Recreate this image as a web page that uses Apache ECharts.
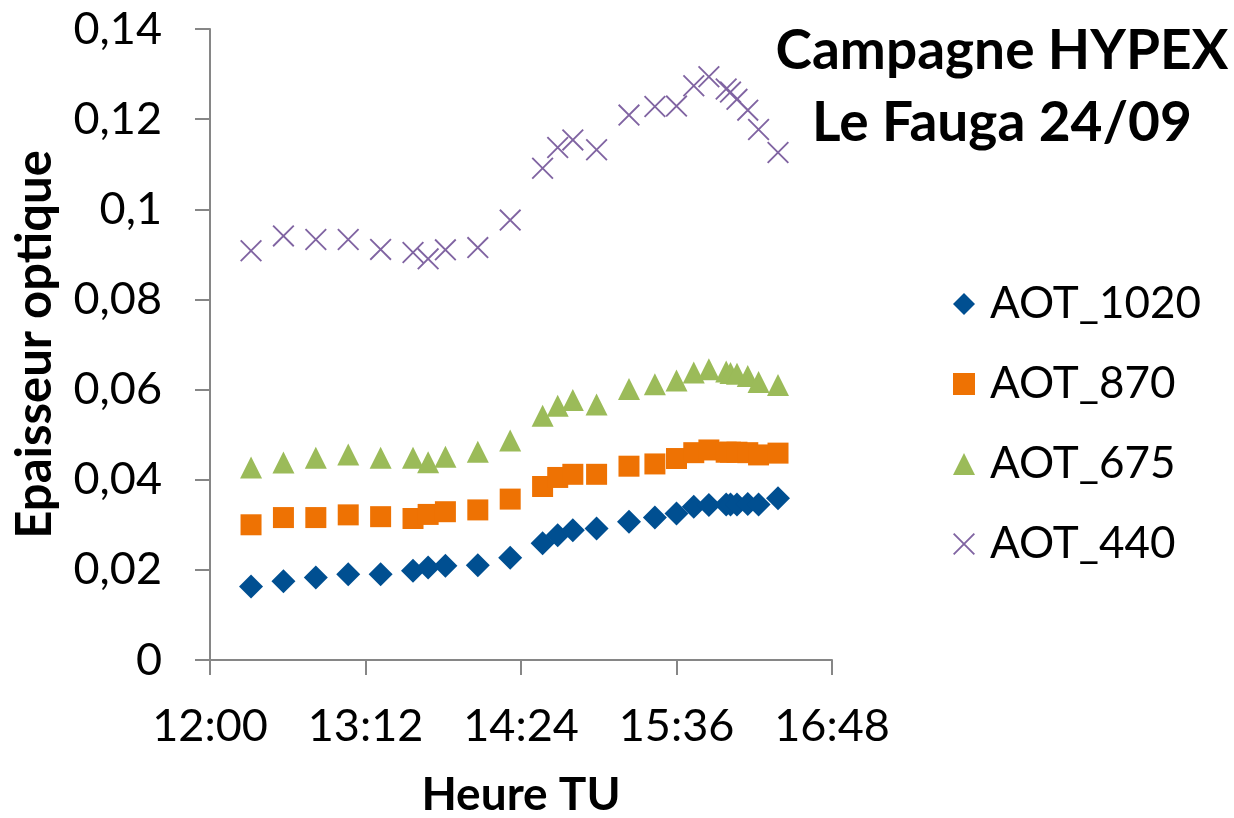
<!DOCTYPE html>
<html>
<head>
<meta charset="utf-8">
<script src="https://cdn.jsdelivr.net/npm/echarts@6/dist/echarts.min.js"></script>
<style>
html,body{margin:0;padding:0;background:#fff;}
#chart{width:1234px;height:818px;}
</style>
</head>
<body>
<div id="chart"></div>
<script>
// Measurement times (Heure TU)
const times = ["12:19","12:34","12:49","13:04","13:19","13:34","13:41","13:49","14:04","14:19",
               "14:34","14:41","14:48","14:59","15:14","15:26","15:36","15:44","15:51","15:59",
               "16:01","16:04","16:09","16:14","16:23"];
const aot1020 = [0.0163,0.0175,0.0183,0.0190,0.0190,0.0198,0.0205,0.0209,0.0210,0.0227,
                 0.0259,0.0277,0.0288,0.0292,0.0307,0.0316,0.0325,0.0340,0.0344,0.0345,
                 0.0345,0.0345,0.0346,0.0345,0.0359];
const aot870  = [0.0300,0.0316,0.0316,0.0322,0.0318,0.0314,0.0323,0.0329,0.0333,0.0357,
                 0.0385,0.0405,0.0412,0.0412,0.0430,0.0435,0.0447,0.0460,0.0466,0.0461,
                 0.0461,0.0461,0.0460,0.0455,0.0459];
const aot675  = [0.0427,0.0438,0.0449,0.0456,0.0449,0.0449,0.0439,0.0451,0.0462,0.0487,
                 0.0542,0.0564,0.0577,0.0567,0.0601,0.0612,0.0620,0.0638,0.0645,0.0640,
                 0.0637,0.0635,0.0630,0.0617,0.0610];
const aot440  = [0.0908,0.0941,0.0933,0.0933,0.0911,0.0904,0.0890,0.0910,0.0915,0.0976,
                 0.1091,0.1137,0.1154,0.1132,0.1209,0.1228,0.1229,0.1274,0.1294,0.1267,
                 0.1260,0.1244,0.1220,0.1177,0.1126];
const seriesNames = ["AOT_1020","AOT_870","AOT_675","AOT_440"];
const xTickMin = 720, xTickMax = 1008, xTickStep = 72;   // 12:00 .. 16:48
const yMin = 0, yMax = 0.14, yStep = 0.02;

function toMin(s){const p=s.split(':');return (+p[0])*60+(+p[1]);}
function fmtTime(v){const h=Math.floor(v/60), m=Math.round(v-h*60);return h+":"+(m<10?"0":"")+m;}
function pairs(vals){return times.map((t,i)=>[toMin(t),vals[i]]);}

const FONT = "Lato, 'Open Sans', sans-serif";
const crossPath = 'path://M0,0.6 L0.6,0 L10,9.4 L9.4,10 Z M9.4,0 L10,0.6 L0.6,10 L0,9.4 Z';

const chart = echarts.init(document.getElementById('chart'), null, {renderer:'canvas'});
chart.setOption({
  animation:false,
  backgroundColor:'#ffffff',
  title:{
    text:"Campagne HYPEX\nLe Fauga 24/09",
    left:997, top:10, textAlign:'center',
    textStyle:{fontFamily:FONT,fontWeight:'bold',fontSize:55,lineHeight:72,color:'#000'}
  },
  legend:{
    orient:'vertical', left:948, top:274,
    itemWidth:22, itemHeight:22, itemGap:30,
    textStyle:{fontFamily:FONT,fontSize:44,color:'#000',lineHeight:50,padding:[0,0,0,10]},
    data:seriesNames
  },
  grid:{left:210,right:402,top:29,bottom:158,containLabel:false,outerBoundsMode:'none'},
  xAxis:{
    type:'value', min:xTickMin, max:xTickMax, interval:xTickStep,
    name:'Heure TU', nameLocation:'middle', nameGap:112,
    nameTextStyle:{fontFamily:FONT,fontWeight:'bold',fontSize:46,color:'#000'},
    axisLine:{show:true,onZero:false,lineStyle:{color:'#868686',width:2}},
    axisTick:{show:true,length:15,lineStyle:{color:'#868686',width:2}},
    axisLabel:{fontFamily:FONT,fontSize:45,color:'#000',margin:44,formatter:fmtTime},
    splitLine:{show:false}
  },
  yAxis:{
    type:'value', min:yMin, max:yMax, interval:yStep,
    name:'Epaisseur optique', nameLocation:'middle', nameRotate:90, nameGap:150,
    nameTextStyle:{fontFamily:FONT,fontWeight:'bold',fontSize:49,color:'#000'},
    axisLine:{show:true,lineStyle:{color:'#868686',width:2}},
    axisTick:{show:true,length:15,lineStyle:{color:'#868686',width:2}},
    axisLabel:{fontFamily:FONT,fontSize:45,color:'#000',margin:48,
      formatter:v=>String(+v.toFixed(4)).replace('.',',')},
    splitLine:{show:false}
  },
  series:[
    {name:seriesNames[0],type:'scatter',data:pairs(aot1020),symbol:'diamond',symbolSize:24,
     itemStyle:{color:'#004F91',opacity:1}},
    {name:seriesNames[1],type:'scatter',data:pairs(aot870),symbol:'rect',symbolSize:21,
     itemStyle:{color:'#EE7203',opacity:1}},
    {name:seriesNames[2],type:'scatter',data:pairs(aot675),symbol:'triangle',symbolSize:22,
     itemStyle:{color:'#9BBB59',opacity:1}},
    {name:seriesNames[3],type:'scatter',data:pairs(aot440),symbol:crossPath,symbolSize:22,
     itemStyle:{color:'#8064A2',opacity:1}}
  ]
});
</script>
</body>
</html>
